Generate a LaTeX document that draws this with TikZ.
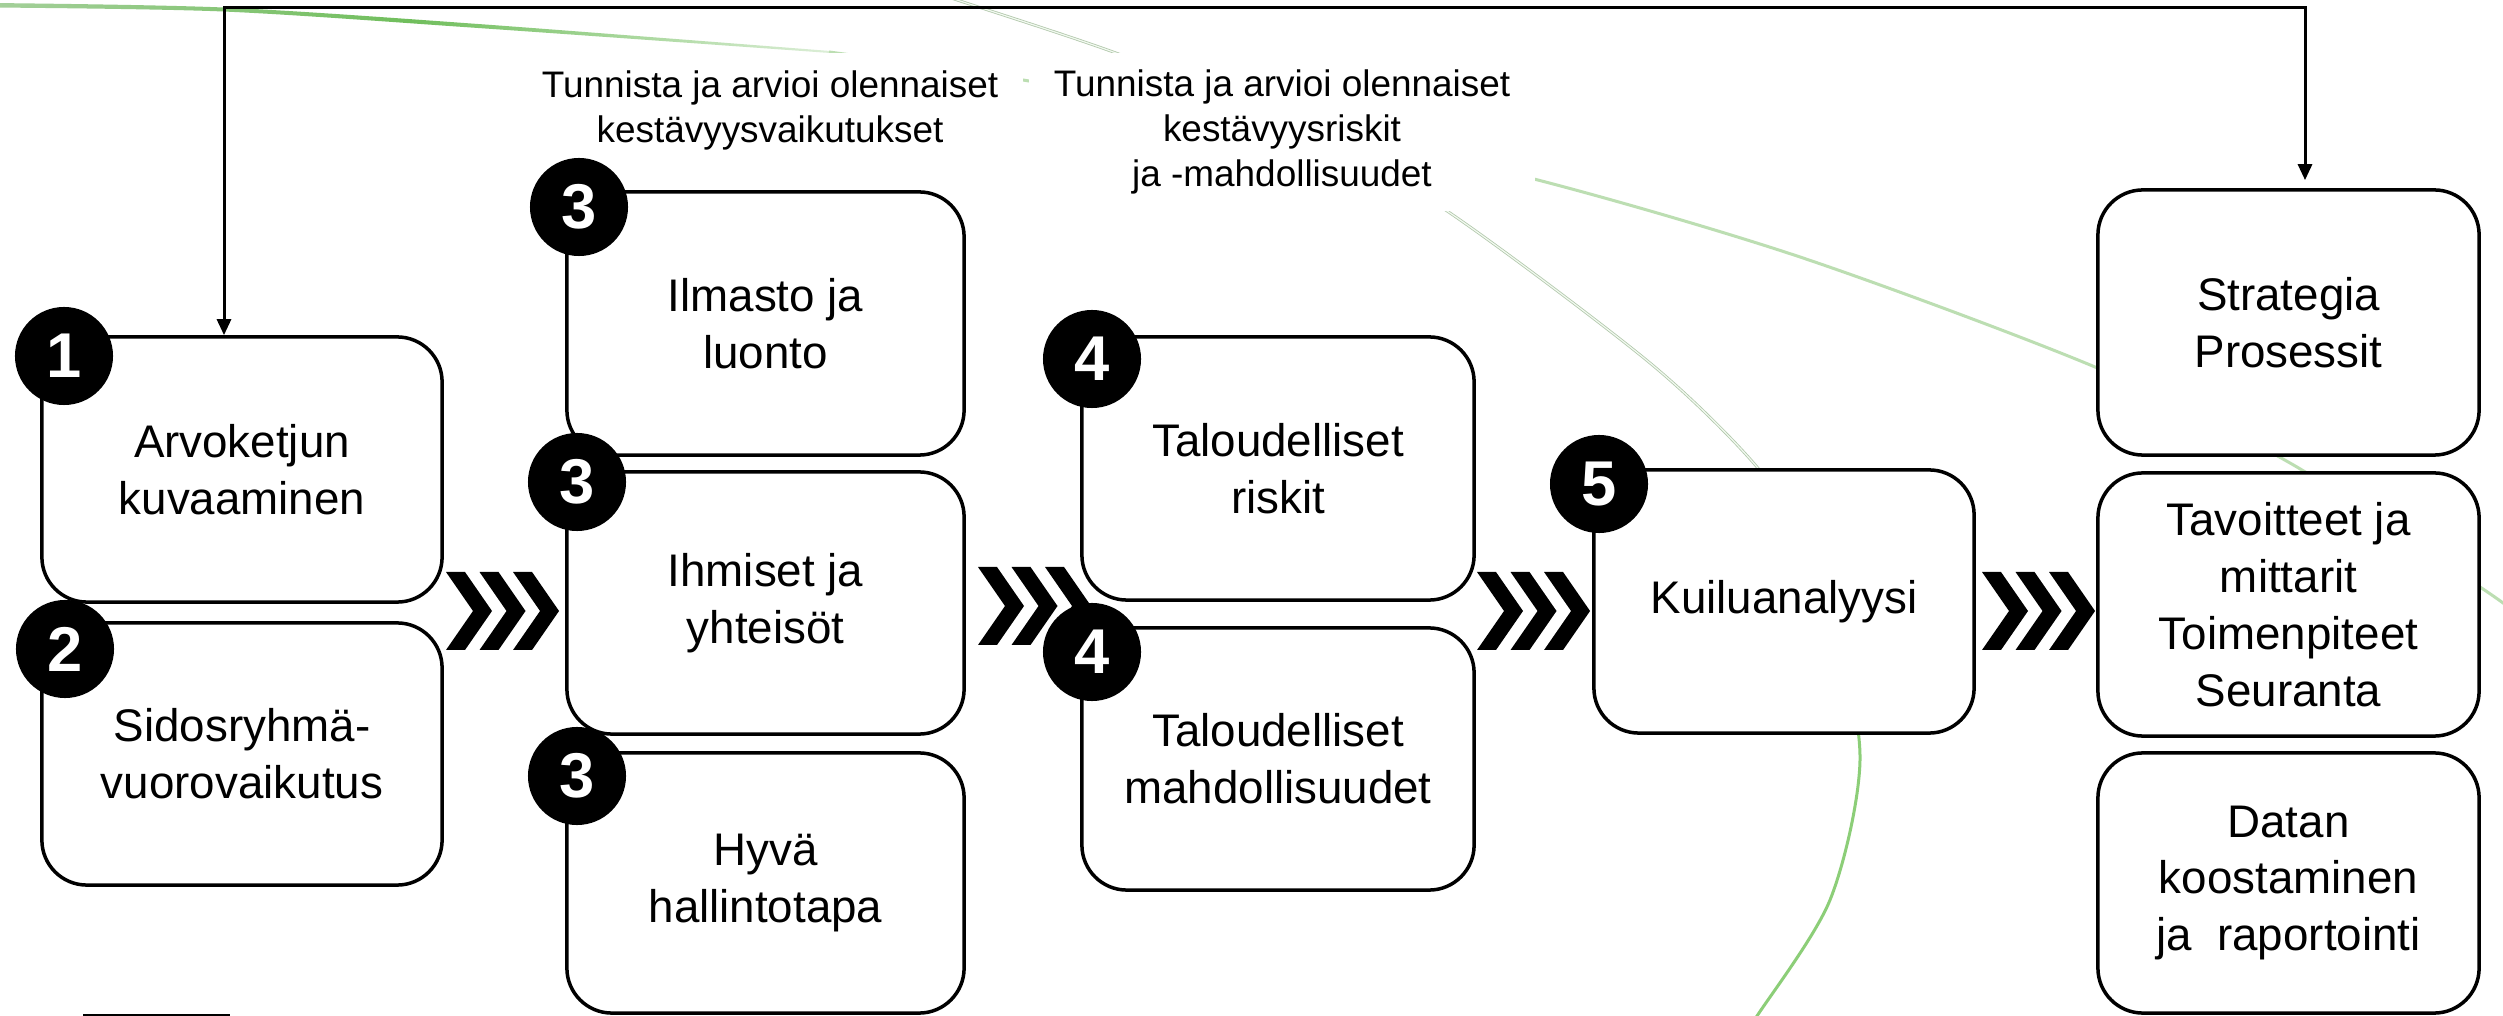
\documentclass[tikz,border=0pt]{standalone}
\usepackage{fontspec}
\setmainfont{Liberation Sans}
\usetikzlibrary{arrows.meta,calc}
\definecolor{lgA}{RGB}{165,208,155}
\definecolor{lgB}{RGB}{112,190,92}
\definecolor{lgC}{RGB}{220,238,215}
\definecolor{curveA}{RGB}{188,222,178}
\definecolor{arcEdge}{RGB}{178,200,172}
\definecolor{arcFill}{RGB}{242,249,240}
\definecolor{arcGreen}{RGB}{140,206,120}
\tikzset{
  chevrons/.pic={
    \foreach \i in {0,1,2}{
      \fill[black,xshift=\i*0.335cm] (0,0) -- (19,0) -- (46,39) -- (19,78) -- (0,78) -- (27,39) -- cycle;
    }
  }
}
\begin{document}
\begin{tikzpicture}[x=0.01cm,y=-0.01cm,
  box/.style={draw=black, line width=0.035cm, rounded corners=0.45cm, fill=white,
    align=center, font=\fontsize{13}{16.2}\selectfont, inner sep=0pt},
  badge/.style={circle, fill=black, text=white, minimum size=0.98cm, inner sep=0pt,
    font=\fontsize{18}{18}\selectfont\bfseries},
  toplabel/.style={fill=white, align=center, font=\fontsize{10.5}{12.8}\selectfont,
    inner xsep=0.25cm, inner ysep=0.17cm},
  conn/.style={line width=0.03cm,
    {Triangle[length=0.16cm,width=0.14cm]}-{Triangle[length=0.16cm,width=0.14cm]}},
]
\useasboundingbox (0,0) rectangle (2503,1016);
\fill[white] (0,0) rectangle (2503,1016);

% decorative curves
\shade[left color=lgA, right color=lgC, middle color=lgB]
  plot[smooth] coordinates {(-10,3) (223,7.5) (478,24) (830,51)}
  -- plot[smooth] coordinates {(830,53) (478,28) (223,11.5) (-10,7.5)} -- cycle;
\draw[curveA, line width=0.03cm] plot[smooth] coordinates
  {(829,52) (1023,80) (1300,130) (1530,178) (1800,257) (2095,367) (2290,463) (2480,587) (2525,620)};
\draw[draw=arcEdge, double=arcFill, double distance=0.012cm, line width=0.008cm]
  plot[smooth] coordinates {(925,-10) (957,0) (1116,53) (1300,125) (1450,213) (1650,363) (1757,467) (1800,540)};
\draw[arcGreen, line width=0.03cm]
  plot[smooth] coordinates {(1800,540) (1835,620) (1860,760) (1830,900) (1757,1016) (1740,1040)};

% top labels
\node[toplabel] (lab1) at (770,110) {Tunnista ja arvioi olennaiset\\kestävyysvaikutukset};
\node[toplabel] (lab2) at (1282,132) {Tunnista ja arvioi olennaiset\\kestävyysriskit\\ja -mahdollisuudet};

% boxes
\node[box, minimum width=4cm, minimum height=2.65cm] (b1) at (242,469.5) {Arvoketjun\\kuvaaminen};
\node[box, minimum width=4cm, minimum height=2.62cm] (b2) at (242,754) {Sidosryhmä-\\vuorovaikutus};
\node[box, minimum width=3.97cm, minimum height=2.63cm] (b3a) at (765.5,323.5) {Ilmasto ja\\luonto};
\node[box, minimum width=3.97cm, minimum height=2.62cm] (b3b) at (765.5,603) {Ihmiset ja\\yhteisöt};
\node[box, minimum width=3.97cm, minimum height=2.60cm] (b3c) at (765.5,883) {Hyvä\\hallintotapa};
\node[box, minimum width=3.92cm, minimum height=2.63cm] (b4a) at (1278,468.5) {Taloudelliset\\riskit};
\node[box, minimum width=3.92cm, minimum height=2.62cm] (b4b) at (1278,759) {Taloudelliset\\mahdollisuudet};
\node[box, minimum width=3.80cm, minimum height=2.63cm] (b5) at (1784,601.5) {Kuiluanalyysi};
\node[box, minimum width=3.81cm, minimum height=2.65cm] (b6a) at (2288.5,322.5) {Strategia\\Prosessit};
\node[box, minimum width=3.81cm, minimum height=2.63cm] (b6b) at (2288.5,604.5) {Tavoitteet ja\\mittarit\\Toimenpiteet\\Seuranta};
\node[box, minimum width=3.81cm, minimum height=2.60cm] (b6c) at (2288.5,883) {Datan\\koostaminen\\ja\ \ raportointi};

% feedback connector
\coordinate (tl) at (224,8);
\coordinate (tr) at (2305,8);
\draw[conn, shorten >=0.08cm] (b1.north -| tl) -- (tl) -- (tr) -- (b6a.north -| tr);

% chevrons
\pic at (446,572) {chevrons};
\pic at (978,567) {chevrons};
\pic at (1477,572) {chevrons};
\pic at (1982,572) {chevrons};

% badges
\node[badge] (n1) at (64,356) {1};
\node[badge] (n2) at (65,649) {2};
\node[badge] (n3a) at (579,207) {3};
\node[badge] (n3b) at (577,482) {3};
\node[badge] (n3c) at (577,776) {3};
\node[badge] (n4a) at (1092,359) {4};
\node[badge] (n4b) at (1092,652) {4};
\node[badge] (n5) at (1599,484) {5};

% short line at bottom left
\coordinate (bl1) at (83,1014.5);
\coordinate (bl2) at (230,1014.5);
\draw[line width=0.02cm] (bl1) -- (bl2);
\end{tikzpicture}
\end{document}
